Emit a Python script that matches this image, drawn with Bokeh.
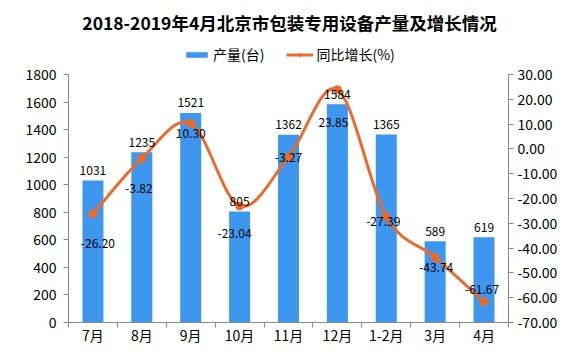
import numpy as np
from bokeh.plotting import figure
from bokeh.layouts import column
from bokeh.models import (Range1d, LinearAxis, FixedTicker, NumeralTickFormatter,
                          Legend, LegendItem, ColumnDataSource, Label)
from bokeh.embed import file_html
from bokeh.resources import INLINE
from bokeh.core.properties import value

# ---------------- data ----------------
categories = ["7月", "8月", "9月", "10月", "11月", "12月", "1-2月", "3月", "4月"]
production = [1031, 1235, 1521, 805, 1362, 1584, 1365, 589, 619]
growth = [-26.20, -3.82, 10.30, -23.04, -3.27, 23.85, -27.39, -43.74, -61.67]
left_ticks = list(range(0, 1801, 200))
right_ticks = list(range(-70, 31, 10))
title_text = "2018-2019年4月北京市包装专用设备产量及增长情况"
legend_labels = ["产量(台)", "同比增长(%)"]

# label offsets (screen px) for the growth labels
growth_dx = [5, -3, 0, -5, 0, -4, -3, 1, -2]
growth_dy = [30, 30, 10, 27, 0, 33, 5, 10, -12]

FONT = "Noto Sans CJK SC"
BLUE = "#3D97EE"
ORANGE = "#EE6A2A"
AXIS = "#8A8A8A"

W = 560
TOP_H = 64
MAIN_H = 347 - TOP_H

n = len(categories)
xc = [i + 0.5 for i in range(n)]

# ---------------- header (title + legend) ----------------
top = figure(width=W, height=TOP_H, output_backend="svg", toolbar_location=None,
             x_range=Range1d(0, W), y_range=Range1d(0, TOP_H), min_border=0,
             x_axis_location=None, y_axis_location=None, title=None)
top.grid.visible = False
top.outline_line_color = None
top.add_layout(Label(x=221, y=TOP_H - 22, x_units="screen", y_units="screen",
                     text=title_text, text_align="center",
                     text_baseline="middle", text_font=FONT, text_font_size="17.5px",
                     text_font_style="bold", text_color="#000000"))
# off-screen sample marks so the legend can draw its swatches
leg_src = ColumnDataSource(data=dict(x=[-1000, -999], y=[-1000, -1000], top=[-1000, -1000]))
leg_bar = top.vbar(x="x", top="top", source=leg_src, width=1, fill_color=BLUE, line_color=None)
leg_line = top.line(x="x", y="y", source=leg_src, line_color=ORANGE, line_width=3)
leg_dot = top.scatter(x="x", y="y", source=leg_src, size=8, fill_color=ORANGE, line_color=ORANGE)
legend = Legend(items=[LegendItem(label=legend_labels[0], renderers=[leg_bar], index=0),
                       LegendItem(label=legend_labels[1], renderers=[leg_line, leg_dot], index=0)],
                orientation="horizontal", location=(115, 0),
                glyph_width=27, glyph_height=7, label_standoff=3, spacing=22,
                padding=0, margin=0, border_line_color=None, background_fill_alpha=0,
                label_text_font=FONT, label_text_font_size="14px", label_text_color="#000000")
top.add_layout(legend, "center")

# ---------------- main chart ----------------
p = figure(width=W, height=MAIN_H, output_backend="svg", toolbar_location=None,
           x_range=Range1d(0, n), y_range=Range1d(0, 1800),
           min_border_left=68, min_border_right=52,
           min_border_top=10, min_border_bottom=24)
p.outline_line_color = None
p.xgrid.grid_line_color = None
p.ygrid.grid_line_color = None

p.vbar(x=xc, top=production, width=0.43, fill_color=BLUE, line_color=None)

p.extra_y_ranges = {"g": Range1d(-70, 30)}

# smooth line via bezier segments (Catmull-Rom style control points)
gx = np.array(xc, dtype=float)
gy = np.array(growth, dtype=float)
px = np.concatenate([[gx[0]], gx, [gx[-1]]])
py = np.concatenate([[gy[0]], gy, [gy[-1]]])
t = 1.0 / 6.0
x0, y0 = gx[:-1], gy[:-1]
x1, y1 = gx[1:], gy[1:]
cx0 = x0 + (px[2:-1] - px[0:-3]) * t
cy0 = y0 + (py[2:-1] - py[0:-3]) * t
cx1 = x1 - (px[3:] - px[1:-2]) * t
cy1 = y1 - (py[3:] - py[1:-2]) * t
p.bezier(x0=x0, y0=y0, x1=x1, y1=y1, cx0=cx0, cy0=cy0, cx1=cx1, cy1=cy1,
         line_color=ORANGE, line_width=3, y_range_name="g")
p.scatter(x=xc, y=growth, size=8, fill_color=ORANGE, line_color=ORANGE, y_range_name="g")

p.text(x=xc, y=production, text=[str(v) for v in production], text_align="center",
       text_baseline="middle", y_offset=-10, text_font=value(FONT),
       text_font_size="12px", text_color="#000000")
p.text(x=xc, y=growth, text=[f"{v:.2f}" for v in growth], text_align="center",
       text_baseline="middle", x_offset=growth_dx, y_offset=growth_dy,
       text_font=value(FONT), text_font_size="12px", text_color="#000000",
       y_range_name="g")

xa = p.xaxis[0]
xa.ticker = FixedTicker(ticks=xc, minor_ticks=list(range(n + 1)))
xa.major_label_overrides = {x: c for x, c in zip(xc, categories)}
xa.major_tick_line_color = None
xa.major_tick_out = 0
xa.major_tick_in = 0
xa.minor_tick_out = 5
xa.minor_tick_in = 0
xa.minor_tick_line_color = AXIS
xa.axis_line_color = AXIS
xa.major_label_standoff = -3
xa.major_label_text_font = FONT
xa.major_label_text_font_size = "14px"
xa.major_label_text_color = "#000000"

ya = p.yaxis[0]
ya.ticker = FixedTicker(ticks=left_ticks)
ya.minor_tick_line_color = None
ya.major_tick_out = 5
ya.major_tick_in = 0
ya.major_tick_line_color = AXIS
ya.axis_line_color = AXIS
ya.major_label_standoff = 7
ya.major_label_text_font = FONT
ya.major_label_text_font_size = "14px"
ya.major_label_text_color = "#000000"

ra = LinearAxis(y_range_name="g", ticker=FixedTicker(ticks=right_ticks),
                formatter=NumeralTickFormatter(format="0.00"))
ra.minor_tick_line_color = None
ra.major_tick_out = 5
ra.major_tick_in = 0
ra.major_tick_line_color = AXIS
ra.axis_line_color = AXIS
ra.major_label_standoff = 4
ra.major_label_text_font = FONT
ra.major_label_text_font_size = "14px"
ra.major_label_text_color = "#000000"
p.add_layout(ra, "right")

layout = column(top, p, spacing=0)
open("out.html", "w").write(file_html(layout, INLINE))
